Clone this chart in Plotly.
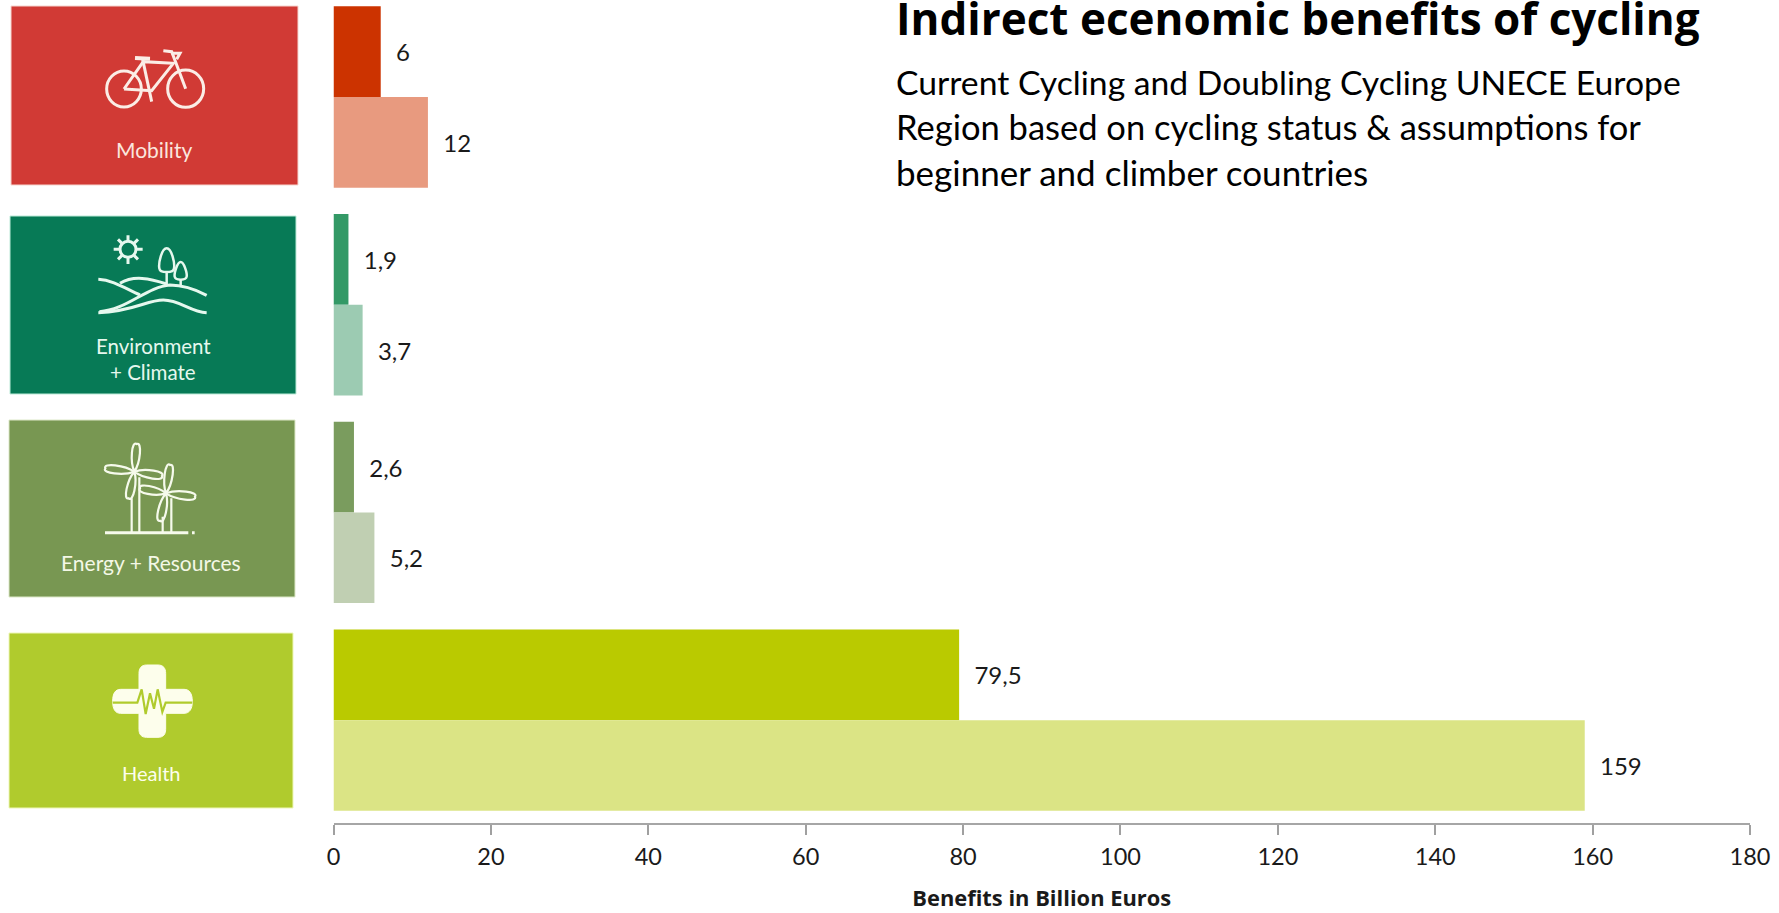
import re
import plotly.graph_objects as go

W, H = 1779, 913

categories = ["Mobility", "Environment + Climate", "Energy + Resources", "Health"]
current_cycling = [6, 1.9, 2.6, 79.5]
doubling_cycling = [12, 3.7, 5.2, 159]
x_ticks = [0, 20, 40, 60, 80, 100, 120, 140, 160, 180]

current_colors = ["#CC3300", "#339966", "#7A9C5E", "#BACA00"]
doubling_colors = ["#E89A7F", "#9CCBB2", "#C0CFB2", "#DBE485"]

title_text = "Indirect ecenomic benefits of cycling"
subtitle_lines = [
    "Current Cycling and Doubling Cycling UNECE Europe",
    "Region based on cycling status & assumptions for",
    "beginner and climber countries",
]
subtitle_sizes = [33.7, 34.5, 35]
axis_title = "Benefits in Billion Euros"

FONT = "Lato, 'Open Sans', sans-serif"
BOLD_FONT = "'Open Sans', Lato, sans-serif"
INK = "#1a1a1a"


def fx(x):
    return x / W


def fy(y):
    return 1 - y / H


def path3(d, oy=0):
    """Path given in 3x zoom coordinates -> paper fractions."""
    tokens = re.findall(r"[A-Za-z]|-?\d+\.?\d*", d)
    out, is_x = [], True
    for t in tokens:
        if t.isalpha():
            out.append(t)
            if t == "Z":
                is_x = True
        elif is_x:
            out.append(f"{fx(float(t) / 3):.5f}")
            is_x = False
        else:
            out.append(f"{fy(float(t) / 3 + oy):.5f}")
            is_x = True
    return " ".join(out)


shapes = []


def tile(x0, y0, x1, y1, fill, edge):
    shapes.append(dict(type="rect", xref="paper", yref="paper", x0=fx(x0), x1=fx(x1),
                       y0=fy(y1), y1=fy(y0), fillcolor=fill,
                       line=dict(color=edge, width=1), layer="below"))


def stroke(d, color, width=2.5, oy=0, fill=None):
    s = dict(type="path", xref="paper", yref="paper", path=path3(d, oy),
             line=dict(color=color, width=width))
    if fill:
        s["fillcolor"] = fill
    shapes.append(s)


def ring(cx, cy, rx, ry, color, width=2.5, oy=0, fill=None):
    s = dict(type="circle", xref="paper", yref="paper",
             x0=fx((cx - rx) / 3), x1=fx((cx + rx) / 3),
             y0=fy((cy + ry) / 3 + oy), y1=fy((cy - ry) / 3 + oy),
             line=dict(color=color, width=width))
    if fill:
        s["fillcolor"] = fill
    shapes.append(s)


def blade(hx, hy, tx, ty, w, color, oy=0):
    dx, dy = tx - hx, ty - hy
    L = (dx * dx + dy * dy) ** 0.5
    nx, ny = -dy / L * w, dx / L * w
    a = (hx + dx * 0.35 + nx, hy + dy * 0.35 + ny)
    b = (tx + dx * 0.12 + nx, ty + dy * 0.12 + ny)
    c = (tx + dx * 0.12 - nx, ty + dy * 0.12 - ny)
    e = (hx + dx * 0.35 - nx, hy + dy * 0.35 - ny)
    stroke(f"M {hx} {hy} C {a[0]:.1f} {a[1]:.1f} {b[0]:.1f} {b[1]:.1f} {tx} {ty} "
           f"C {c[0]:.1f} {c[1]:.1f} {e[0]:.1f} {e[1]:.1f} {hx} {hy} Z", color, 2.2, oy)


# tiles
tile(11, 6, 298, 185, "#D13A35", "#F6D5CF")
tile(10, 216, 296, 394, "#077A56", "#BDEBD8")
tile(9, 420, 295, 597, "#789752", "#DDE8C8")
tile(9, 633, 293, 808, "#B0CB2D", "#EEF7B8")

# bicycle
BK = "#FBEDE6"
ring(372, 267, 52, 54, BK, 3)
ring(557, 266, 54, 56, BK, 3)
stroke("M 372 267 L 455 272 L 520 190 L 430 185 L 372 267", BK, 3)
stroke("M 428 178 L 455 305", BK, 3)
stroke("M 405 174 L 450 176", BK, 4)
stroke("M 490 152 L 515 155 L 557 266", BK, 3)
stroke("M 515 160 L 540 160 L 530 178", BK, 3)

# landscape
GR = "#E6F8EE"
ring(384, 748, 24, 24, GR, 3)
stroke("M 384 706 L 384 722 M 384 774 L 384 792 M 341 748 L 358 748 M 410 748 L 428 748 "
       "M 354 718 L 366 730 M 402 766 L 414 778 M 354 778 L 366 766 M 402 730 L 414 718", GR, 3)
stroke("M 500 745 C 515 745 525 790 522 805 C 520 820 480 820 478 805 C 475 790 485 745 500 745 Z", GR)
stroke("M 500 815 L 500 855", GR)
stroke("M 542 786 C 552 786 562 820 560 830 C 558 842 526 842 524 830 C 522 820 532 786 542 786 Z", GR)
stroke("M 542 838 L 542 855", GR)
stroke("M 295 838 C 340 840 380 868 420 885", GR, 3)
stroke("M 360 850 C 400 825 450 835 500 852", GR, 3)
stroke("M 298 935 C 380 930 440 860 510 855 C 550 855 590 870 620 886", GR, 3)
stroke("M 295 938 C 400 935 440 900 490 900 C 540 900 570 935 620 938", GR, 3)

# wind turbines
WT = "#F6FAEC"
OY = 400
for hub, tips in [((403, 215), [(410, 132), (316, 205), (486, 228), (386, 295)]),
                  ((498, 280), [(510, 195), (420, 265), (585, 290), (480, 362)])]:
    for t in tips:
        blade(hub[0], hub[1], t[0], t[1], 16, WT, OY)
stroke("M 395 295 L 395 396 M 418 232 L 418 396 M 488 350 L 488 396 M 514 295 L 514 396", WT, 2.2, OY)
stroke("M 315 398 L 565 398 M 576 398 L 584 398", WT, 3, OY)

# medical cross
CR = "#FDFEEC"
stroke("M 440 795 L 474 795 C 490 795 497 805 497 820 L 497 868 L 552 868 C 568 868 577 880 577 904 "
       "C 577 928 568 940 552 940 L 497 940 L 497 988 C 497 1003 490 1012 474 1012 L 440 1012 "
       "C 424 1012 417 1003 417 988 L 417 940 L 362 940 C 346 940 338 928 338 904 "
       "C 338 880 346 868 362 868 L 417 868 L 417 820 C 417 805 424 795 440 795 Z", CR, 1, OY, CR)
stroke("M 338 908 L 412 908 L 425 868 L 437 942 L 450 880 L 462 926 L 473 868 L 487 936 L 497 908 L 577 908",
       "#B0CB2D", 2.2, OY)

annotations = []


def note(text, x, y, size, color, anchor="center", bold=False):
    annotations.append(dict(text=f"<b>{text}</b>" if bold else text, xref="paper", yref="paper",
                            x=fx(x), y=fy(y), xanchor=anchor, yanchor="middle", showarrow=False,
                            borderpad=0, borderwidth=0,
                            font=dict(family=BOLD_FONT if bold else FONT, size=size, color=color)))


note("Mobility", 154, 150, 21, "#FBE6DE")
note("Environment", 153, 346, 20.5, "#E6F8EE")
note("+ Climate", 153, 372, 20.5, "#E6F8EE")
note("Energy + Resources", 151, 562, 21, "#F4F8E6")
note("Health", 151, 773, 20, "#FDFEEC")

note(title_text, 896, 18, 44, "#000000", "left", True)
for line, yy, sz in zip(subtitle_lines, [82, 127, 172], subtitle_sizes):
    note(line, 896, yy, sz, "#000000", "left")

label_tpl = "\u00a0\u00a0%{x}"

fig = go.Figure()
fig.add_trace(go.Bar(name="Current Cycling", y=categories, x=current_cycling, orientation="h",
                     marker=dict(color=current_colors, line=dict(width=0)),
                     texttemplate=label_tpl, textposition="outside", cliponaxis=False,
                     textfont=dict(family=FONT, size=24, color=INK)))
fig.add_trace(go.Bar(name="Doubling Cycling", y=categories, x=doubling_cycling, orientation="h",
                     marker=dict(color=doubling_colors, line=dict(width=0)),
                     texttemplate=label_tpl, textposition="outside", cliponaxis=False,
                     textfont=dict(family=FONT, size=24, color=INK)))

fig.update_layout(
    width=W, height=H, autosize=False,
    margin=dict(l=0, r=0, t=0, b=0, autoexpand=False),
    paper_bgcolor="white", plot_bgcolor="white",
    barmode="group", bargap=0.127, bargroupgap=0,
    separators=", ",
    showlegend=False,
    shapes=shapes, annotations=annotations,
    font=dict(family=FONT, color=INK),
    xaxis=dict(domain=[fx(333.5), fx(1750)], range=[0, 180], tickvals=x_ticks, ticks="outside",
               ticklen=10, tickwidth=1.5, tickcolor="#A0A0A0", showline=True, linecolor="#A6A6A6",
               linewidth=1.5, showgrid=False, zeroline=False, ticklabelstandoff=2,
               tickfont=dict(family=FONT, size=23.5, color=INK),
               title=dict(text=f"<b>{axis_title}</b>", standoff=22,
                          font=dict(family=BOLD_FONT, size=21.9, color=INK))),
    yaxis=dict(domain=[fy(823), 1], type="category", categoryorder="array", categoryarray=categories,
               range=[3.495, -0.467], showticklabels=False, ticks="", showline=False,
               showgrid=False, zeroline=False),
)

fig.write_html("out.html", config={"displayModeBar": False},
               post_script="document.body.style.margin='0';document.body.style.overflow='hidden';")
